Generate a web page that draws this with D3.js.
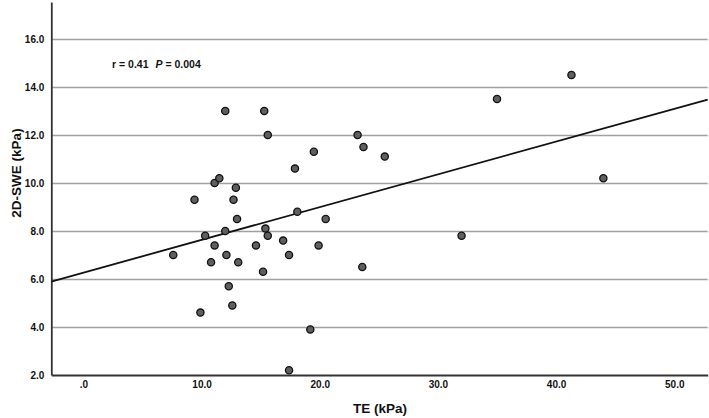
<!DOCTYPE html>
<html>
<head>
<meta charset="utf-8">
<script src="https://cdn.jsdelivr.net/npm/d3@7"></script>
<style>
  html, body { margin: 0; padding: 0; background: #fff; }
  svg { display: block; }
</style>
</head>
<body>
<svg id="chart" width="709" height="418"></svg>
<script>
// ---- data ----
const teValues = [7.6, 9.4, 9.9, 10.3, 10.8, 11.1, 11.1, 11.5, 12.0, 12.0, 12.1, 12.3, 12.6, 12.7, 12.9, 13.0, 13.1,
  14.6, 15.2, 15.3, 15.4, 15.6, 15.6, 16.9, 17.4, 17.4, 17.9, 18.1, 19.2, 19.5, 19.9, 20.5,
  23.2, 23.6, 23.7, 25.5, 32.0, 35.0, 41.3, 44.0];
const sweValues = [7.0, 9.3, 4.6, 7.8, 6.7, 10.0, 7.4, 10.2, 13.0, 8.0, 7.0, 5.7, 4.9, 9.3, 9.8, 8.5, 6.7,
  7.4, 6.3, 13.0, 8.1, 12.0, 7.8, 7.6, 7.0, 2.2, 10.6, 8.8, 3.9, 11.3, 7.4, 8.5,
  12.0, 6.5, 11.5, 11.1, 7.8, 13.5, 14.5, 10.2];
const xTicks = [0, 10, 20, 30, 40, 50];
const yTicks = [2, 4, 6, 8, 10, 12, 14, 16];
const fitIntercept = 6.265;
const fitSlope = 0.1365;
const xDomain = [-2.72, 52.83];
const yDomain = [2, 17.54];
const annotation = { r: "0.41", p: "0.004" };
const xTitle = "TE (kPa)";
const yTitle = "2D-SWE (kPa)";

// ---- layout ----
const svg = d3.select("#chart");
const mLeft = 51.3, mRight = 707.7, mTop = 2, mBottom = 375;

const x = d3.scaleLinear().domain(xDomain).range([mLeft, mRight]);
const y = d3.scaleLinear().domain(yDomain).range([mBottom, mTop]);

const fmt = v => v === 0 ? ".0" : d3.format(".1f")(v);

// gridlines
svg.append("g")
  .attr("transform", `translate(${mLeft},0)`)
  .call(d3.axisLeft(y).tickValues(yTicks.filter(v => v > yDomain[0])).tickSize(-(mRight - mLeft)).tickFormat(""))
  .call(g => g.select(".domain").remove())
  .call(g => g.selectAll("line").attr("stroke", "#a0a0a0").attr("stroke-width", 1.4));

// y axis
const yAxis = svg.append("g")
  .attr("transform", `translate(${mLeft},0)`)
  .call(d3.axisLeft(y).tickValues(yTicks).tickSize(0).tickPadding(7).tickFormat(fmt));
yAxis.select(".domain").attr("stroke", "#333").attr("stroke-width", 1.8);
yAxis.selectAll("text")
  .attr("font-family", "'Liberation Sans', Arial, sans-serif")
  .attr("font-weight", "bold").attr("font-size", "10px").attr("fill", "#111");

// x axis
const xAxis = svg.append("g")
  .attr("transform", `translate(0,${mBottom})`)
  .call(d3.axisBottom(x).tickValues(xTicks).tickSize(0).tickPadding(6).tickFormat(fmt));
xAxis.select(".domain").attr("stroke", "#333").attr("stroke-width", 1.8);
xAxis.selectAll("text")
  .attr("font-family", "'Liberation Sans', Arial, sans-serif")
  .attr("font-weight", "bold").attr("font-size", "10px").attr("fill", "#111");

// regression line
const line = d3.line().x(d => x(d)).y(d => y(fitIntercept + fitSlope * d));
svg.append("path")
  .datum(xDomain)
  .attr("d", line)
  .attr("fill", "none")
  .attr("stroke", "#111")
  .attr("stroke-width", 1.8);

// points
svg.append("g")
  .selectAll("circle")
  .data(teValues.map((v, i) => [v, sweValues[i]]))
  .join("circle")
  .attr("cx", d => x(d[0]))
  .attr("cy", d => y(d[1]))
  .attr("r", 3.6)
  .attr("fill", "#5f5f5f")
  .attr("stroke", "#111")
  .attr("stroke-width", 1.3);

// annotation
const ann = svg.append("text")
  .attr("x", 112).attr("y", 68)
  .attr("font-family", "'Liberation Sans', Arial, sans-serif")
  .attr("font-weight", "bold").attr("font-size", "10.5px").attr("fill", "#111");
ann.append("tspan").text(`r = ${annotation.r}`);
ann.append("tspan").attr("dx", 7).attr("font-style", "italic").text("P");
ann.append("tspan").text(` = ${annotation.p}`);

// axis titles
svg.append("text")
  .attr("x", 380).attr("y", 413)
  .attr("text-anchor", "middle")
  .attr("font-family", "'Liberation Sans', Arial, sans-serif")
  .attr("font-weight", "bold")
  .attr("font-size", "13.5px").attr("fill", "#111")
  .text(xTitle);

svg.append("text")
  .attr("transform", `translate(21,173) rotate(-90)`)
  .attr("text-anchor", "middle")
  .attr("font-family", "'Liberation Sans', Arial, sans-serif")
  .attr("font-weight", "bold")
  .attr("font-size", "13.5px").attr("fill", "#111")
  .text(yTitle);
</script>
</body>
</html>
